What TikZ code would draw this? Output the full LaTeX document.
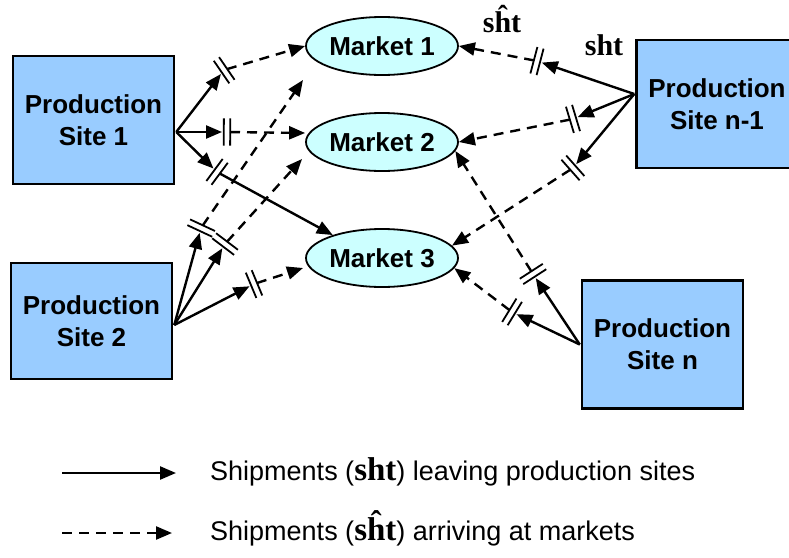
\documentclass[tikz,border=0pt]{standalone}
\usepackage{fontspec}
\setmainfont{Liberation Sans}
\newfontfamily\tnr{Liberation Serif}
\usetikzlibrary{calc,arrows.meta,shapes.geometric,positioning}
\definecolor{siteblue}{HTML}{99CCFF}
\definecolor{mktcyan}{HTML}{CCFFFF}
\newcommand\sht{{\tnr\bfseries sht}}
\newcommand\shat{{\tnr\bfseries s\^{h}t}}
\tikzset{site/.style={draw, line width=2.5pt, fill=siteblue, minimum width=161pt, minimum height=128pt, align=center, font=\fontsize{26}{32}\selectfont\bfseries},
  market/.style={ellipse, draw, line width=1.8pt, fill=mktcyan, minimum width=152pt, minimum height=58pt, inner sep=0pt, font=\fontsize{26}{30}\selectfont\bfseries},
  leave/.style={line width=2.4pt, -{Triangle[length=16pt,width=13pt]}},
  arrive/.style={leave, dash pattern=on 10pt off 7pt},
  cut/.style={minimum width=6pt, minimum height=27pt, inner sep=0pt, sloped, allow upside down},
  cutline/.style={line width=1.8pt}}
% source, break, target
\newcommand\ship[4][arrive]{%
  \draw[leave] (#2) -- ($(#3)!5pt!(#2)$);
  \draw[#1] ($(#3)!3pt!(#4)$) -- (#4);
  \path ($(#3)!1pt!(#2)$) -- node[cut] (c) {} ($(#3)!1pt!(#4)$);
  \draw[cutline] (c.north west) -- (c.south west) (c.north east) -- (c.south east);}

\begin{document}
\begin{tikzpicture}[x=1pt,y=-1pt]
    \useasboundingbox (0,0) rectangle (789,557);
    \node[site] (S1) at (93.5,120) {Production\\Site 1};
    \node[site, minimum height=116pt] (S2) at (91.5,321) {Production\\Site 2};
    \node[site] (Sn1) at (717,104) {Production\\Site n-1};
    \node[site] (Sn) at (662.5,344.5) {Production\\Site n};
    \node[market] (M1) at (382,46) {Market 1};
    \node[market] (M2) at (382,142) {Market 2};
    \node[market] (M3) at (382,258) {Market 3};
    % where the shipments leave
    \coordinate (o1) at ($(S1.east)+(1,12)$);
    \coordinate (o2) at ($(S2.east)+(1,4)$);
    \coordinate (on1) at ($(Sn1.west)+(-1,-10)$);
    \coordinate (on) at ($(Sn.west)+(-1,0)$);
    % ends that stop short of the markets
    \coordinate (e21) at (303,80);
    \coordinate (e22) at (302,159);
    \coordinate (e23) at (303,268);
    \ship{o1}{224,70}{M1.west}
    \ship{o1}{227,132}{$(M2.west)+(0,-9)$}
    \ship[leave]{o1}{217,172}{M3.155}
    \ship{o2}{201,228}{e21}
    \ship{o2}{225,244}{e22}
    \ship{o2}{254,284}{e23}
    \ship{on1}{537,61}{M1.east}
    \ship{on1}{573,119}{M2.east}
    \ship{on1}{573,168}{M3.10}
    \ship{on}{533,274}{M2.-7}
    \ship{on}{512,312}{M3.-8}
    \node[anchor=base, inner sep=0pt, font=\fontsize{30}{30}\selectfont] (hat) at (502,32) {\shat};
    \node[anchor=base, inner sep=0pt, font=\fontsize{30}{30}\selectfont] (plain) at (604,55) {\sht};
    % legend
    \coordinate (la) at (62,473);
    \coordinate (lb) at (176,473);
    \coordinate (lc) at (62,533);
    \coordinate (ld) at (172,533);
    \draw[leave] (la) -- (lb);
    \draw[arrive] (lc) -- (ld);
    \node[anchor=base west, inner sep=0pt, font=\fontsize{27}{30}\selectfont] (t1) at (210,480) {Shipments ({\fontsize{33}{33}\selectfont\sht}) leaving production sites};
    \node[anchor=base west, inner sep=0pt, font=\fontsize{27}{30}\selectfont] (t2) at (210,540) {Shipments ({\fontsize{33}{33}\selectfont\shat}) arriving at markets};
\end{tikzpicture}
\end{document}
